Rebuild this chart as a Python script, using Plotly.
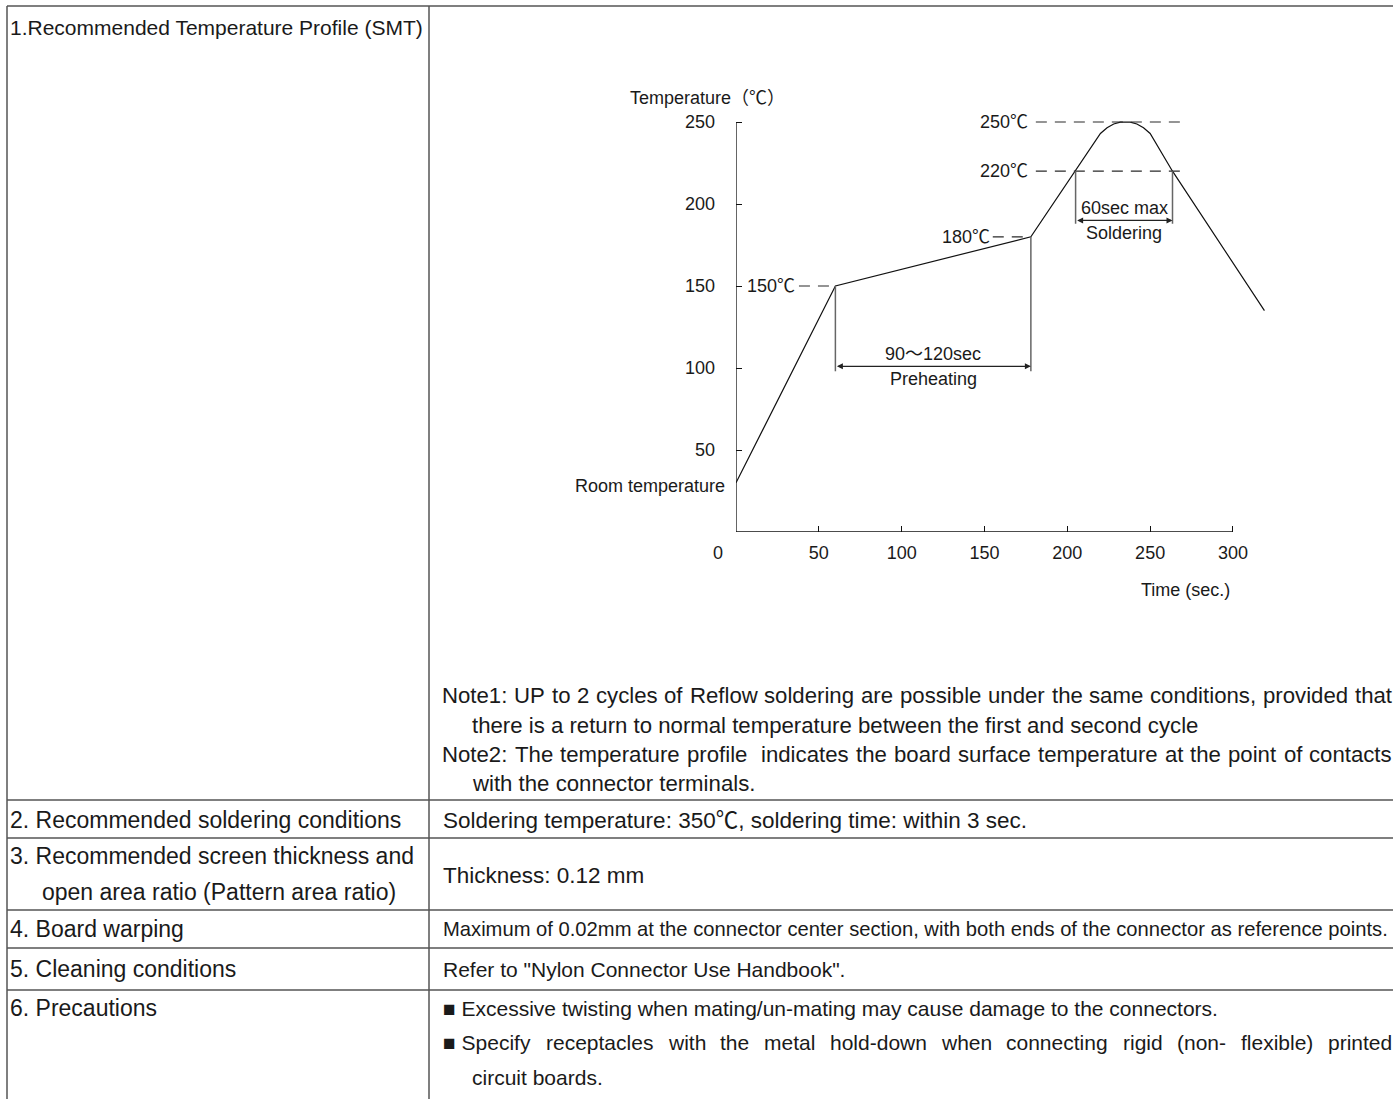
import plotly.graph_objects as go

W, H = 1393, 1099

# ---------------- data ----------------
profile_time = [0, 60, 178, 205, 220, 224, 228, 232, 235, 238, 242, 246, 250, 263.5, 319]
profile_temp = [30, 150, 180, 220, 243, 246.5, 248.8, 249.9, 250, 249.9, 248.8, 246.5, 243, 220, 135]

x_ticks = [50, 100, 150, 200, 250, 300]
y_ticks = [50, 100, 150, 200, 250]

ref_levels = [150, 180, 220, 250]
ref_labels = ["150℃", "180℃", "220℃", "250℃"]
ref_dash_start = [38, 155, 181, 181]
ref_dash_end = [60, 178, 272, 272]
ref_label_time = [21, 139, 162, 162]

preheat_times = [60, 178]
preheat_temp = 101
preheat_ext_bottom = 98
preheat_text = ["90～120sec", "Preheating"]

solder_times = [205, 263.5]
solder_temp = 190
solder_ext_bottom = 188
solder_text = ["60sec max", "Soldering"]

row_labels = [
    ["1.Recommended Temperature Profile (SMT)"],
    ["2. Recommended soldering conditions"],
    ["3. Recommended screen thickness and", "open area ratio (Pattern area ratio)"],
    ["4. Board warping"],
    ["5. Cleaning conditions"],
    ["6. Precautions"],
]
notes = [
    "Note1: UP to 2 cycles of Reflow soldering are possible under the same conditions, provided that",
    "there is a return to normal temperature between the first and second cycle",
    "Note2: The temperature profile  indicates the board surface temperature at the point of contacts",
    "with the connector terminals.",
]
row_contents = [
    None,
    ["Soldering temperature: 350℃, soldering time: within 3 sec."],
    ["Thickness: 0.12 mm"],
    ["Maximum of 0.02mm at the connector center section, with both ends of the connector as reference points."],
    ['Refer to "Nylon Connector Use Handbook".'],
    ["■ Excessive twisting when mating/un-mating may cause damage to the connectors.",
     "■ Specify receptacles with the metal hold-down when connecting rigid (non- flexible) printed",
     "circuit boards."],
]

# ---------------- fonts / metrics ----------------
FONT = "Liberation Sans, Arial, Noto Sans CJK JP, sans-serif"
TXT = "#1a1a1a"
LINE = "#555555"

_AW = {' ': 278, '!': 278, '"': 355, '#': 556, '$': 556, '%': 889, '&': 667, "'": 191, '(': 333, ')': 333,
       '*': 389, '+': 584, ',': 278, '-': 333, '.': 278, '/': 278, ':': 278, ';': 278, '?': 556}
for ch in "0123456789":
    _AW[ch] = 556
_AW.update(dict(zip("ABCDEFGHIJKLMNOPQRSTUVWXYZ",
                    [667, 667, 722, 722, 667, 611, 778, 722, 278, 500, 667, 556, 833, 722, 778, 667, 778, 722,
                     667, 611, 722, 667, 944, 667, 667, 611])))
_AW.update(dict(zip("abcdefghijklmnopqrstuvwxyz",
                    [556, 556, 500, 556, 556, 278, 556, 556, 222, 222, 500, 222, 833, 556, 556, 556, 556, 333,
                     500, 278, 556, 500, 722, 500, 500, 500])))


def text_w(s, size):
    w = 0.0
    for ch in s:
        w += (640 if ch == "■" else _AW.get(ch, 556)) * size
    return w / 1000


def py(y):
    return 1 - y / H


def px(x):
    return x / W


fig = go.Figure()

fig.add_trace(go.Scatter(
    x=profile_time, y=profile_temp, mode="lines",
    line=dict(color="#111111", width=1.2), hoverinfo="skip", showlegend=False))

shapes = []
annotations = []

# axis lines
shapes.append(dict(type="line", xref="x", yref="y", x0=0, x1=x_ticks[-1], y0=0, y1=0,
                   line=dict(color="#111111", width=1.3)))
shapes.append(dict(type="line", xref="x", yref="y", x0=0, x1=0, y0=0, y1=y_ticks[-1],
                   line=dict(color="#111111", width=1.3)))

# dashed reference lines and labels
for lvl, lab, s, e, lt in zip(ref_levels, ref_labels, ref_dash_start, ref_dash_end, ref_label_time):
    shapes.append(dict(type="line", xref="x", yref="y", x0=s, x1=e, y0=lvl, y1=lvl,
                       line=dict(color="#2a2a2a", width=1.2, dash="11px,8px")))
    annotations.append(dict(x=lt, y=lvl, xref="x", yref="y", text=lab, showarrow=False,
                            font=dict(family=FONT, size=18, color=TXT), xanchor="center", yanchor="middle"))

# extension lines
for t, lvl in zip(preheat_times, [ref_levels[0], ref_levels[1]]):
    shapes.append(dict(type="line", xref="x", yref="y", x0=t, x1=t, y0=lvl, y1=preheat_ext_bottom,
                       line=dict(color="#666666", width=1.5)))
for t in solder_times:
    shapes.append(dict(type="line", xref="x", yref="y", x0=t, x1=t, y0=ref_levels[2], y1=solder_ext_bottom,
                       line=dict(color="#666666", width=1.5)))

# dimension arrows
for (t0, t1), temp in [(preheat_times, preheat_temp), (solder_times, solder_temp)]:
    annotations.append(dict(x=t1, y=temp, ax=t0, ay=temp, xref="x", yref="y", axref="x", ayref="y",
                            text="", showarrow=True, arrowhead=2, arrowside="end+start",
                            arrowsize=1, arrowwidth=1.2, arrowcolor="#222222"))

pm = sum(preheat_times) / 2
annotations.append(dict(x=pm, y=preheat_temp, xref="x", yref="y", text=preheat_text[0], showarrow=False,
                        font=dict(family=FONT, size=18, color=TXT), yanchor="bottom", yshift=0))
annotations.append(dict(x=pm, y=preheat_temp, xref="x", yref="y", text=preheat_text[1], showarrow=False,
                        font=dict(family=FONT, size=18, color=TXT), yanchor="top", yshift=-1))
sm = sum(solder_times) / 2
annotations.append(dict(x=sm, y=solder_temp, xref="x", yref="y", text=solder_text[0], showarrow=False,
                        font=dict(family=FONT, size=18, color=TXT), yanchor="bottom", yshift=0))
annotations.append(dict(x=sm, y=solder_temp, xref="x", yref="y", text=solder_text[1], showarrow=False,
                        font=dict(family=FONT, size=18, color=TXT), yanchor="top", yshift=-1))


def ptxt(x, y, s, size, xanchor="center"):
    annotations.append(dict(x=px(x), y=py(y), xref="paper", yref="paper", text=s, showarrow=False,
                            xanchor=xanchor, yanchor="middle", font=dict(family=FONT, size=size, color=TXT)))


def txt(x, y, s, size=22):
    ptxt(x, y, s, size, "left")


def justified(x0, x1, y, s, size):
    words = s.split(" ")
    if words[0] == "■":
        words = [words[0] + " " + words[1]] + words[2:]
    widths = [text_w(w, size) for w in words]
    gap = (x1 - x0 - sum(widths)) / (len(words) - 1)
    x = x0
    for w, ww in zip(words, widths):
        if w:
            txt(x, y, w, size)
        x += ww + gap


# axis titles and corner labels (placed in page coordinates)
ptxt(707, 98, "Temperature（℃）", 18)
ptxt(727, 486, "Room temperature", 18, "right")
ptxt(718, 553, "0", 18)
ptxt(1185, 590, "Time (sec.)", 18)

# ---------------- table ----------------
row_lines = [6, 800, 838, 910, 948, 990]
left_x, col_x = 7, 429
for y in row_lines:
    shapes.append(dict(type="line", xref="paper", yref="paper", x0=px(left_x), x1=1, y0=py(y), y1=py(y),
                       line=dict(color=LINE, width=1.5)))
for x in [left_x, col_x]:
    shapes.append(dict(type="line", xref="paper", yref="paper", x0=px(x), x1=px(x), y0=py(6), y1=0,
                       line=dict(color=LINE, width=1.5)))

# left column
label_y = [[28], [820], [856, 892], [929], [969], [1008]]
for labs, ys in zip(row_labels, label_y):
    for i, (s, y) in enumerate(zip(labs, ys)):
        txt(8 if i == 0 else 40, y, s, 21 if ys == [28] else 23)

# notes (first lines justified to the cell edge)
note_y = [695, 725, 754, 783]
note_x = [440, 470, 440, 470]
for i, (s, x, y) in enumerate(zip(notes, note_x, note_y)):
    if i % 2 == 0:
        justified(x, 1390, y, s, 22.2)
    else:
        txt(x, y, s, 22.2)

# right column
SMALL = 21
txt(441, 820, row_contents[1][0], 22.5)
txt(441, 875, row_contents[2][0], 22.5)
txt(441, 929, row_contents[3][0], 20.2)
txt(441, 969, row_contents[4][0], SMALL)
txt(441, 1008, row_contents[5][0], SMALL)
justified(441, 1390, 1042, row_contents[5][1], SMALL)
txt(470, 1077, row_contents[5][2], SMALL)

x0p, x1p = 736, 1266.1
y0p, ytop = 532, 532 - 260 * 1.64

fig.update_layout(
    width=W, height=H, margin=dict(l=0, r=0, t=0, b=0),
    paper_bgcolor="white", plot_bgcolor="white",
    showlegend=False, shapes=shapes, annotations=annotations,
    xaxis=dict(domain=[px(x0p), px(x1p)], range=[0, 320], showgrid=False, zeroline=False, showline=False,
               tickmode="array", tickvals=x_ticks, ticktext=[str(v) for v in x_ticks],
               ticks="inside", ticklen=6, tickwidth=1.2, tickcolor="#111111",
               tickfont=dict(family=FONT, size=18, color=TXT), ticklabelstandoff=8, fixedrange=True),
    yaxis=dict(domain=[py(y0p), py(ytop)], range=[0, 260], showgrid=False, zeroline=False, showline=False,
               tickmode="array", tickvals=y_ticks, ticktext=[str(v) for v in y_ticks],
               ticks="inside", ticklen=6, tickwidth=1.2, tickcolor="#111111",
               tickfont=dict(family=FONT, size=18, color=TXT), ticklabelstandoff=20, fixedrange=True),
)

fig.write_html("out.html", config={"displayModeBar": False},
               post_script="document.body.style.margin='0';document.body.style.padding='0';")
